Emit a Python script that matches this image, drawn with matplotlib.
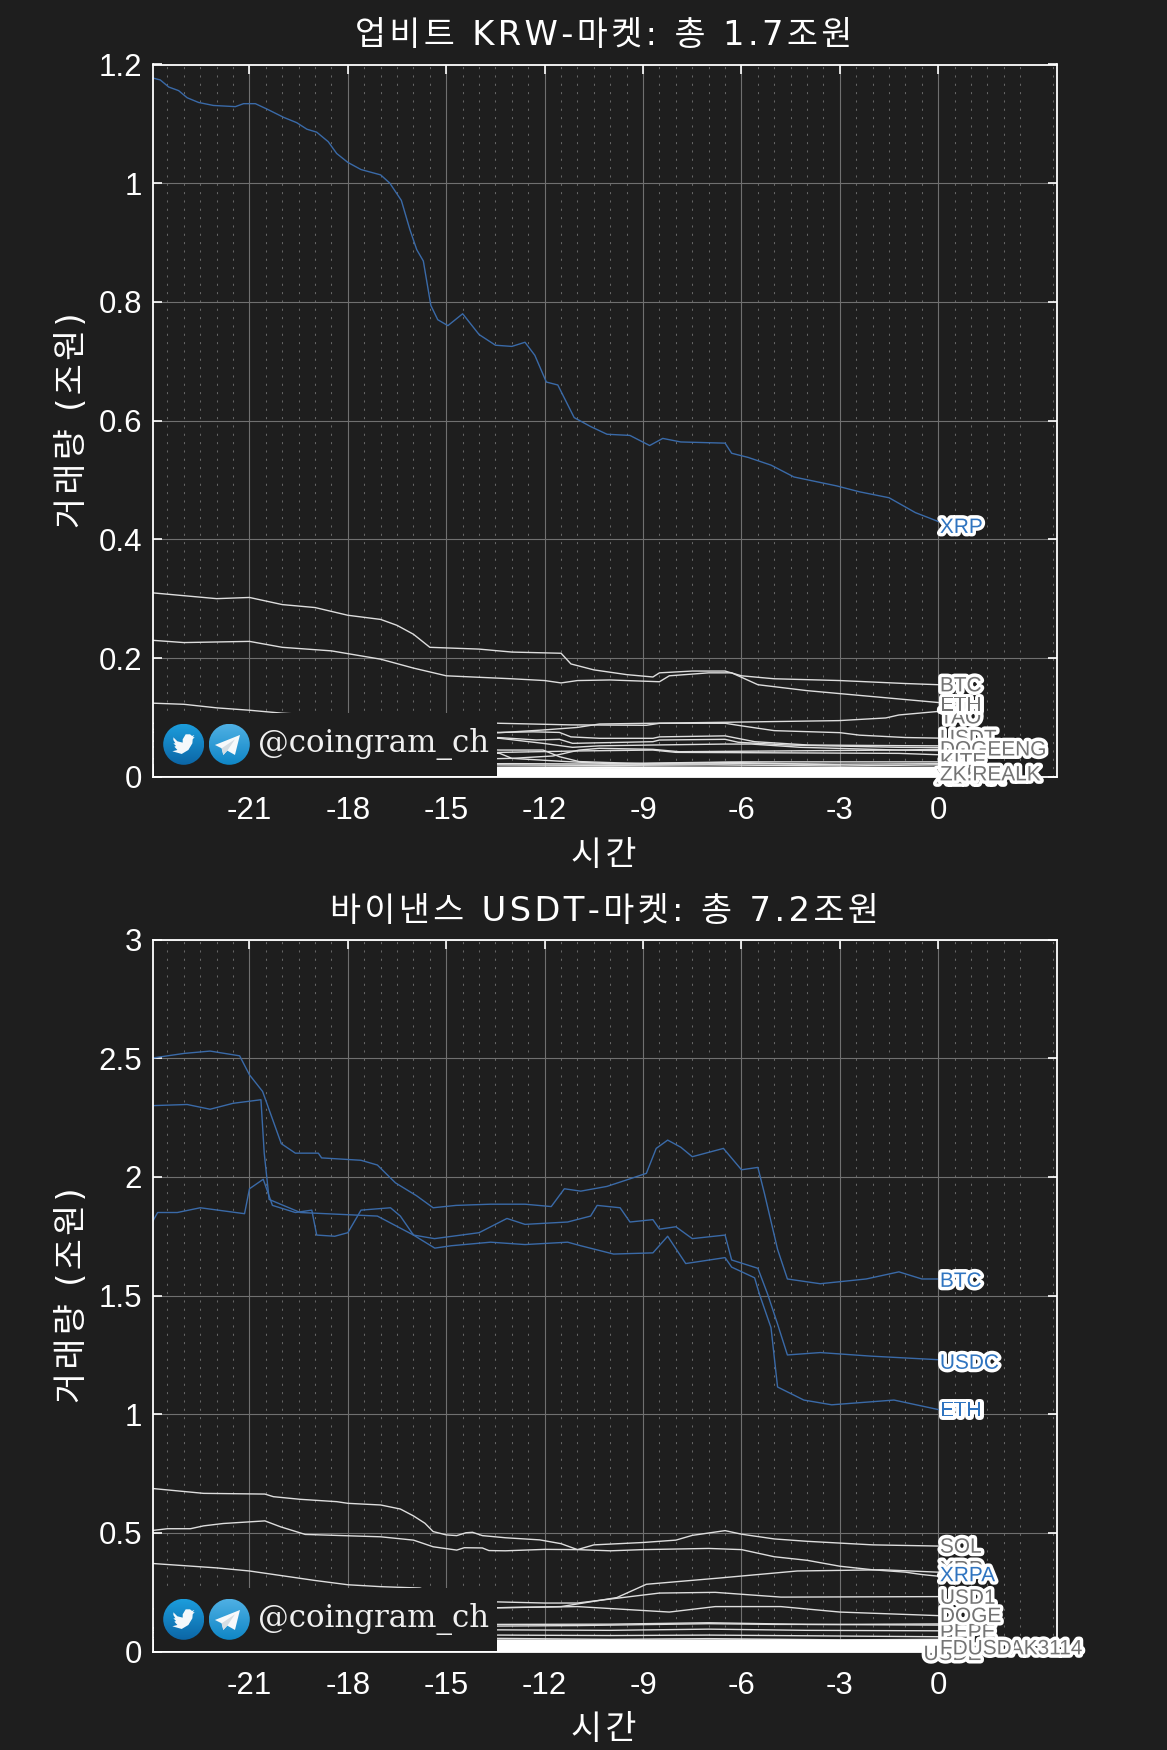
import numpy as np
import matplotlib
matplotlib.use("Agg")
import matplotlib.pyplot as plt
import matplotlib.patheffects as pe
from matplotlib.patches import Circle, Rectangle, Polygon

plt.rcParams['font.family'] = ['Liberation Sans', 'Noto Sans CJK KR', 'DejaVu Sans']
plt.rcParams['axes.unicode_minus'] = False
KR = ['DejaVu Sans', 'Noto Sans CJK KR']

BG = '#1e1e1e'
BLUE = '#3a6aa8'
GRAY = '#dedede'
LBLUE = '#2f74c0'
LGRAY = '#747474'

# ---------- Upbit KRW market ----------
krw_title = '업비트 KRW-마켓: 총 1.7조원'
krw_yticks = [0, 0.2, 0.4, 0.6, 0.8, 1, 1.2]

krw_xrp_t = [-24,-23.72,-23.46,-23.16,-22.9,-22.55,-22.1,-21.43,-21.18,-20.82,-20.47,-19.96,-19.56,-19.25,-18.95,-18.6,-18.34,-18,-17.6,-17,-16.72,-16.37,-16.11,-15.9,-15.7,-15.47,-15.26,-14.95,-14.5,-14,-13.5,-13,-12.6,-12.3,-11.95,-11.6,-11.1,-10.6,-10.1,-9.4,-8.8,-8.4,-7.85,-6.5,-6.3,-5.8,-5.1,-4.4,-3.1,-2.4,-1.5,-0.7,0]
krw_xrp_v = [1.178,1.174,1.162,1.156,1.144,1.136,1.131,1.129,1.134,1.134,1.125,1.111,1.102,1.091,1.086,1.07,1.05,1.035,1.023,1.014,1.0,.971,.922,.888,.869,.794,.77,.76,.78,.745,.727,.725,.732,.71,.665,.66,.605,.59,.577,.575,.558,.57,.564,.562,.545,.538,.525,.505,.49,.48,.47,.445,.43]
krw_btc_t = [-24,-23,-22,-21,-20,-19,-18,-17,-16.5,-16,-15.5,-14,-13,-11.5,-11.2,-10.5,-9.5,-8.7,-8.5,-7.5,-6.5,-6,-5,-3,-1,0]
krw_btc_v = [.31,.305,.30,.302,.29,.285,.272,.265,.255,.24,.218,.215,.21,.208,.19,.18,.172,.168,.175,.178,.178,.17,.165,.162,.157,.155]
krw_eth_t = [-24,-23,-21,-20,-18.5,-17,-16,-15,-13,-12,-11.5,-11,-10,-8.5,-8.2,-7,-6.3,-5.5,-4,-2,0]
krw_eth_v = [.23,.226,.228,.218,.212,.198,.183,.17,.165,.162,.158,.162,.163,.16,.17,.175,.175,.155,.145,.135,.125]
krw_tao_t = [-24,-18,-13.37,-12.05,-11,-10.33,-8.8,-6.5,-3.03,-1.6,-1.2,0]
krw_tao_v = [.05,.06,.0742,.0787,.083,.0888,.09,.0917,.0945,.099,.104,.11]
krw_usdt_t = [-24,-23,-22,-21,-20,-17,-13.37,-11.2,-8.9,-8.5,-6.5,-6,-5,-3,-2.4,-1,0]
krw_usdt_v = [.124,.122,.116,.112,.107,.098,.09,.0873,.0866,.09,.09,.0857,.0776,.0742,.07,.066,.065]
krw_c_t = [-24,-13.37,-12.35,-11.55,-11.2,-10.33,-8.7,-8.5,-6.5,-5.6,-3.97,-1.2,0]
krw_c_v = [.09,.0746,.0756,.0746,.0671,.0647,.0647,.0671,.0688,.059,.0534,.0523,.052]
krw_d_t = [-24,-13.37,-12.25,-11.55,-11.15,-8.7,-8.5,-6.5,-6.1,-4.6,-1.2,0]
krw_d_v = [.08,.0658,.0619,.063,.0562,.059,.0618,.063,.058,.0534,.0495,.049]
krw_e_t = [-24,-13.37,-12.05,-11.15,-10.33,-8.7,-6.5,-5.7,-4.2,-1.2,0]
krw_e_v = [.075,.0647,.0562,.0495,.052,.0534,.055,.055,.0495,.0449,.046]
krw_f_t = [-24,-13.37,-12.05,-11.55,-10.95,-9,-6.4,-3]
krw_f_v = [.06,.0449,.0449,.0337,.0255,.022,.024,.02]
krw_g_t = [-24,-13,-11.75,-10.95,-10.33,-8.7,-7.9,-1.2,0]
krw_g_v = [.02,.0309,.0349,.0449,.0478,.0461,.0421,.0449,.044]
krw_h_t = [-24,-10.95,-8.7,-8,-1.2,0]
krw_h_v = [.03,.0434,.0449,.041,.0393,.037]
krw_i_t = [-24,-13.37,-13,-11.35,-10,-6,-3,0]
krw_i_v = [.06,.0393,.0309,.0255,.022,.025,.025,.025]
krw_j_t = [-24,-13,-9,-6,-3,0]
krw_j_v = [.02,.022,.021,.022,.021,.022]
krw_k_t = [-24,-14,-10,-7,-3,0]
krw_k_v = [.018,.02,.019,.02,.018,.02]
krw_band_t = [-24,-14,-10,-6,-3,0]
krw_band_1 = [.016,.015,.0155,.015,.0145,.015]
krw_band_2 = [.013,.013,.0125,.013,.0125,.0125]
krw_band_3 = [.011,.0105,.011,.0105,.0105,.0105]
krw_band_4 = [.008,.0085,.0085,.0085,.008,.0085]
krw_band_5 = [.006,.0065,.006,.0065,.006,.0065]
krw_band_6 = [.004,.0045,.004,.0045,.004,.0045]
krw_band_7 = [.002,.0025,.002,.0025,.002,.0025]
krw_band_8 = [.001,.001,.001,.001,.001,.001]

# labels in drawing order
krw_label_names = ['XZKAK','XRP','TAO','BTC','ETH','USDT','SEI','DOGEENG','SOL','KITE','ZKP','ZK.REALK']
krw_label_vals = [-.002,.42,.099,.153,.12,.064,.033,.045,.018,.025,.005,.003]
krw_label_x = [-.12,0,0,0,0,0,0,0,0,0,0,0]
krw_label_blue = [False,True]+[False]*10

# ---------- Binance USDT market ----------
usdt_title = '바이낸스 USDT-마켓: 총 7.2조원'
usdt_yticks = [0, 0.5, 1, 1.5, 2, 2.5, 3]

bin_btc_t = [-24,-23,-22.2,-21.3,-21,-20.6,-20.03,-19.6,-18.9,-18.8,-17.6,-17.1,-16.55,-15.9,-15.4,-14.7,-13.65,-12.6,-11.8,-11.4,-10.9,-10.1,-9.55,-8.9,-8.6,-8.25,-7.85,-7.5,-6.55,-6,-5.5,-5.3,-4.9,-4.6,-3.6,-2.2,-1.2,-0.5,0]
bin_btc_v = [2.50,2.52,2.53,2.51,2.43,2.36,2.14,2.10,2.10,2.08,2.07,2.05,1.975,1.92,1.87,1.88,1.885,1.885,1.875,1.95,1.94,1.96,1.985,2.015,2.12,2.155,2.125,2.085,2.12,2.03,2.04,1.93,1.695,1.57,1.55,1.57,1.60,1.57,1.57]
bin_usdc_t = [-24,-22.9,-22.2,-21.5,-20.65,-20.55,-20.4,-19.45,-17.1,-16,-15.36,-14,-13.15,-12.6,-11.3,-10.6,-10.4,-9.7,-9.4,-8.7,-8.5,-8,-7.5,-6.5,-6.3,-5.5,-5.2,-4.9,-4.6,-3.6,-2.05,0]
bin_usdc_v = [2.30,2.305,2.285,2.31,2.325,2.1,1.905,1.85,1.835,1.755,1.74,1.765,1.825,1.80,1.81,1.835,1.88,1.87,1.81,1.82,1.78,1.79,1.74,1.755,1.65,1.615,1.505,1.38,1.25,1.26,1.245,1.23]
bin_eth_t = [-24,-23.8,-23.2,-22.5,-21.15,-21,-20.58,-20.3,-19.6,-19.1,-18.95,-18.4,-18,-17.6,-16.7,-16.4,-16,-15.35,-14.85,-13.65,-12.6,-11.3,-10.9,-9.9,-8.7,-8.25,-7.7,-6.5,-6.3,-5.6,-5.45,-5.1,-4.9,-4.1,-3.25,-1.35,0]
bin_eth_v = [1.80,1.85,1.85,1.87,1.845,1.95,1.99,1.88,1.85,1.86,1.755,1.75,1.765,1.86,1.87,1.835,1.755,1.70,1.71,1.725,1.715,1.725,1.71,1.675,1.68,1.75,1.635,1.66,1.62,1.575,1.505,1.365,1.115,1.06,1.04,1.06,1.02]
bin_sol_t = [-24,-22.4,-20.53,-20.27,-19.46,-18.34,-18,-17,-16.4,-16,-15.65,-15.4,-15,-14.68,-14.4,-14.2,-13.9,-13.2,-12.15,-11.5,-11,-10.5,-9,-8,-7.5,-7,-6.5,-6,-5,-4,-2,0]
bin_sol_v = [.688,.667,.664,.653,.642,.632,.625,.618,.601,.572,.541,.506,.492,.489,.501,.503,.489,.48,.471,.455,.43,.45,.46,.47,.49,.50,.51,.495,.475,.465,.45,.445]
bin_xrp_t = [-24,-23.5,-22.8,-22.4,-21.8,-20.53,-20.05,-19.3,-17,-16,-15.4,-14.68,-14.45,-13.9,-13.7,-13.2,-12.6,-12,-11,-10,-9,-7,-6,-5,-4,-3,-2,-1,-0.5,0]
bin_xrp_v = [.51,.518,.518,.53,.54,.551,.526,.494,.484,.47,.442,.428,.438,.437,.426,.425,.428,.431,.43,.425,.43,.435,.43,.40,.385,.36,.345,.335,.325,.318]
bin_xrpa_t = [-24,-14,-13.5,-11.5,-9.8,-8.9,-6.7,-4.3,-1.7,0]
bin_xrpa_v = [.10,.18,.185,.19,.228,.284,.31,.34,.345,.335]
bin_usd1_t = [-24,-14,-13.5,-12,-11,-8.5,-6.8,-4.8,0]
bin_usd1_v = [.18,.21,.21,.205,.205,.247,.25,.23,.232]
bin_doge_t = [-24,-22,-21,-20,-19,-18,-17,-15.8,-15,-13.5,-11,-8.2,-6.8,-4.8,-3,0]
bin_doge_v = [.372,.353,.34,.32,.30,.282,.274,.268,.23,.185,.19,.167,.19,.19,.167,.152]
bin_a_t = [-24,-13.4,-11,-7,-5,-3,0]
bin_a_v = [.09,.108,.11,.118,.115,.115,.117]
bin_b_t = [-24,-13.4,-10,-7,-4,0]
bin_b_v = [.10,.115,.116,.122,.115,.112]
bin_c_t = [-24,-13.4,-10,-7,-4,0]
bin_c_v = [.08,.092,.09,.095,.09,.088]
bin_d_t = [-24,-13.4,-10,-7,-3,0]
bin_d_v = [.06,.07,.068,.07,.066,.063]
bin_e_t = [-24,-13.4,-10,-7,-3,0]
bin_e_v = [.05,.056,.052,.055,.05,.052]
bin_band_t = [-24,-14,-10,-6,-3,0]
bin_band_1 = [.046,.047,.046,.047,.046,.047]
bin_band_2 = [.042,.041,.042,.042,.041,.042]
bin_band_3 = [.036,.036,.037,.036,.037,.036]
bin_band_4 = [.031,.031,.032,.031,.032,.031]
bin_band_5 = [.026,.026,.026,.027,.026,.026]
bin_band_6 = [.021,.021,.022,.021,.021,.022]
bin_band_7 = [.016,.016,.016,.017,.016,.016]
bin_band_8 = [.011,.011,.012,.011,.011,.011]
bin_band_9 = [.006,.006,.006,.007,.006,.006]
bin_band_10 = [.002,.002,.002,.002,.002,.002]

bin_label_names = ['BTC','USDC','ETH','SOL','XRP','USD1','XRPA','PEPE','DOGE','USDE','AK3114','FDUSD']
bin_label_vals = [1.56,1.215,1.015,.44,.345,.225,.32,.08,.148,-.012,.012,.012]
bin_label_x = [0,0,0,0,0,0,0,0,0,-.5,2.13,0]
bin_label_blue = [True,True,True,False,False,False,True,False,False,False,False,False]

x_ticks = [-21,-18,-15,-12,-9,-6,-3,0]
x_minor = [v*0.5 for v in range(-47, 8) if v % 6 != 0]

krw_lines = [(krw_k_t,krw_k_v),(krw_j_t,krw_j_v),(krw_i_t,krw_i_v),(krw_h_t,krw_h_v),(krw_g_t,krw_g_v),(krw_f_t,krw_f_v),
             (krw_e_t,krw_e_v),(krw_d_t,krw_d_v),(krw_c_t,krw_c_v),(krw_usdt_t,krw_usdt_v),(krw_tao_t,krw_tao_v),
             (krw_eth_t,krw_eth_v),(krw_btc_t,krw_btc_v)]
krw_bands = [(krw_band_t,b) for b in (krw_band_1,krw_band_2,krw_band_3,krw_band_4,krw_band_5,krw_band_6,krw_band_7,krw_band_8)]
krw_blue = [(krw_xrp_t,krw_xrp_v)]

bin_lines = [(bin_e_t,bin_e_v),(bin_d_t,bin_d_v),(bin_c_t,bin_c_v),(bin_b_t,bin_b_v),(bin_a_t,bin_a_v),(bin_doge_t,bin_doge_v),
             (bin_usd1_t,bin_usd1_v),(bin_xrpa_t,bin_xrpa_v),(bin_xrp_t,bin_xrp_v),(bin_sol_t,bin_sol_v)]
bin_bands = [(bin_band_t,b) for b in (bin_band_1,bin_band_2,bin_band_3,bin_band_4,bin_band_5,bin_band_6,bin_band_7,bin_band_8,bin_band_9,bin_band_10)]
bin_blue = [(bin_btc_t,bin_btc_v),(bin_usdc_t,bin_usdc_v),(bin_eth_t,bin_eth_v)]

W, H = 1167, 1750
fig = plt.figure(figsize=(W/100, H/100), dpi=100, facecolor=BG)
AX_L, AX_R = 152.7, 1056.7
LABEL_SHIFT = 0.05

def spaced(s):
    return '\u200a'.join(s)

def make_axes(top, bottom, ylim, yticks, title, xlab_y, title_y, lines, bands, blues, names, vals, xs, isblue):
    ax = fig.add_axes([AX_L/W, 1-bottom/H, (AX_R-AX_L)/W, (bottom-top)/H], facecolor=BG)
    ax.set_xlim(-23.95, 3.61)
    ax.set_ylim(*ylim)
    ax.set_xticks(x_ticks)
    ax.set_xticks(x_minor, minor=True)
    ax.set_yticks(yticks)
    ax.set_yticklabels(['%g' % t for t in yticks])
    ax.grid(True, which='major', color='#707070', lw=0.8, ls='-')
    ax.grid(True, which='minor', axis='x', color='#666666', lw=0.75, ls=(0, (2, 6)))
    ax.set_axisbelow(True)
    ax.tick_params(which='major', direction='in', length=6.5, width=1.2, color='white',
                   top=True, right=True, labelsize=22.5, labelcolor='white')
    ax.tick_params(axis='x', which='major', pad=14)
    ax.tick_params(axis='y', which='major', pad=7.5)
    ax.tick_params(which='minor', length=0)
    for s in ax.spines.values():
        s.set_color('white'); s.set_linewidth(1.3); s.set_zorder(6)
    for t, v in lines:
        ax.plot(t, v, color=GRAY, lw=1.0, zorder=3)
    for t, v in bands:
        ax.plot(t, v, color='white', lw=1.7, zorder=3.2)
    for t, v in blues:
        ax.plot(t, v, color=BLUE, lw=1.0, zorder=3.5)
    for n, v, x0, b in zip(names, vals, xs, isblue):
        ax.text(x0 + LABEL_SHIFT, v, n, color=LBLUE if b else LGRAY, fontsize=15, ha='left', va='center',
                clip_on=False, zorder=8,
                path_effects=[pe.withStroke(linewidth=5, foreground='white')])
    fig.text(604/W, 1-title_y/H, spaced(title), color='white', fontsize=24.3, family=KR, ha='center', va='center')
    fig.text(604/W, 1-xlab_y/H, spaced('시간'), color='white', fontsize=24.3, family=KR, ha='center', va='center')
    fig.text(73/W, 1-(top+bottom-1)/2/H, spaced('거래량 (조원)'), color='white', fontsize=24.3, family=KR,
             rotation=90, ha='center', va='center')
    return ax

ax1 = make_axes(64.5, 776.7, (0, 1.2), krw_yticks, krw_title, 855, 36, krw_lines, krw_bands, krw_blue,
                krw_label_names, krw_label_vals, krw_label_x, krw_label_blue)
ax2 = make_axes(939.5, 1651.7, (0, 3), usdt_yticks, usdt_title, 1730, 911, bin_lines, bin_bands, bin_blue,
                bin_label_names, bin_label_vals, bin_label_x, bin_label_blue)

# overlay in pixel coordinates for the watermark
ov = fig.add_axes([0, 0, 1, 1], zorder=5)
ov.patch.set_alpha(0)
ov.axis('off')

bird = np.array([(100,172),(112,184),(128,188),(128,178),(137,163),(150,163),(156,168),(163,165),(158,172),(164,171),
                 (158,178),(157,190),(145,210),(125,222),(97,214),(112,210),(103,200),(108,198),(100,190),(106,190),(100,180)],float)
bird = (bird - np.array([131,193]))/3
plane = (np.array([(225,195),(300,165),(285,225),(262,212),(250,225),(245,205)],float) - np.array([268,193]))/3
plane_sh = (np.array([(245,205),(285,178),(262,212),(250,225)],float) - np.array([268,193]))/3

def gradient_circle(cx, cy, r, c_top, c_bot):
    g = np.linspace(0, 1, 64)[:, None, None]
    a = np.array(matplotlib.colors.to_rgb(c_top))[None, None, :]
    b = np.array(matplotlib.colors.to_rgb(c_bot))[None, None, :]
    im = ov.imshow(a*(1-g)+b*g, extent=(cx-r, cx+r, cy+r, cy-r), aspect='auto', zorder=2, interpolation='bilinear')
    c = Circle((cx, cy), r, transform=ov.transData)
    im.set_clip_path(c)

def watermark(axis_bottom, top):
    cy = axis_bottom - 32.4
    ov.add_patch(Rectangle((153.7, top), 497-153.7, axis_bottom-1.2-top, facecolor=BG, edgecolor='none', zorder=1))
    gradient_circle(183.7, cy, 20.5, '#1c9ddc', '#0c66a6')
    gradient_circle(229.3, cy, 20.5, '#4fb0e4', '#0f86c6')
    ov.add_patch(Polygon(bird+[183.7, cy], closed=True, facecolor='#f4f8fb', edgecolor='none', zorder=3))
    ov.add_patch(Polygon(plane+[229.3, cy], closed=True, facecolor='#f7f9fb', edgecolor='none', zorder=3))
    ov.add_patch(Polygon(plane_sh+[229.3, cy], closed=True, facecolor='#d5dde3', edgecolor='none', zorder=4))
    ov.text(258.5, cy, '@coingram_ch', color='#f0f0f0', fontsize=22.2, family='DejaVu Serif',
            ha='left', va='center', zorder=5)

watermark(776.7, 713)
watermark(1651.7, 1588)
ov.set_xlim(0, W)
ov.set_ylim(H, 0)

fig.savefig('out.png', dpi=100, facecolor=BG)
